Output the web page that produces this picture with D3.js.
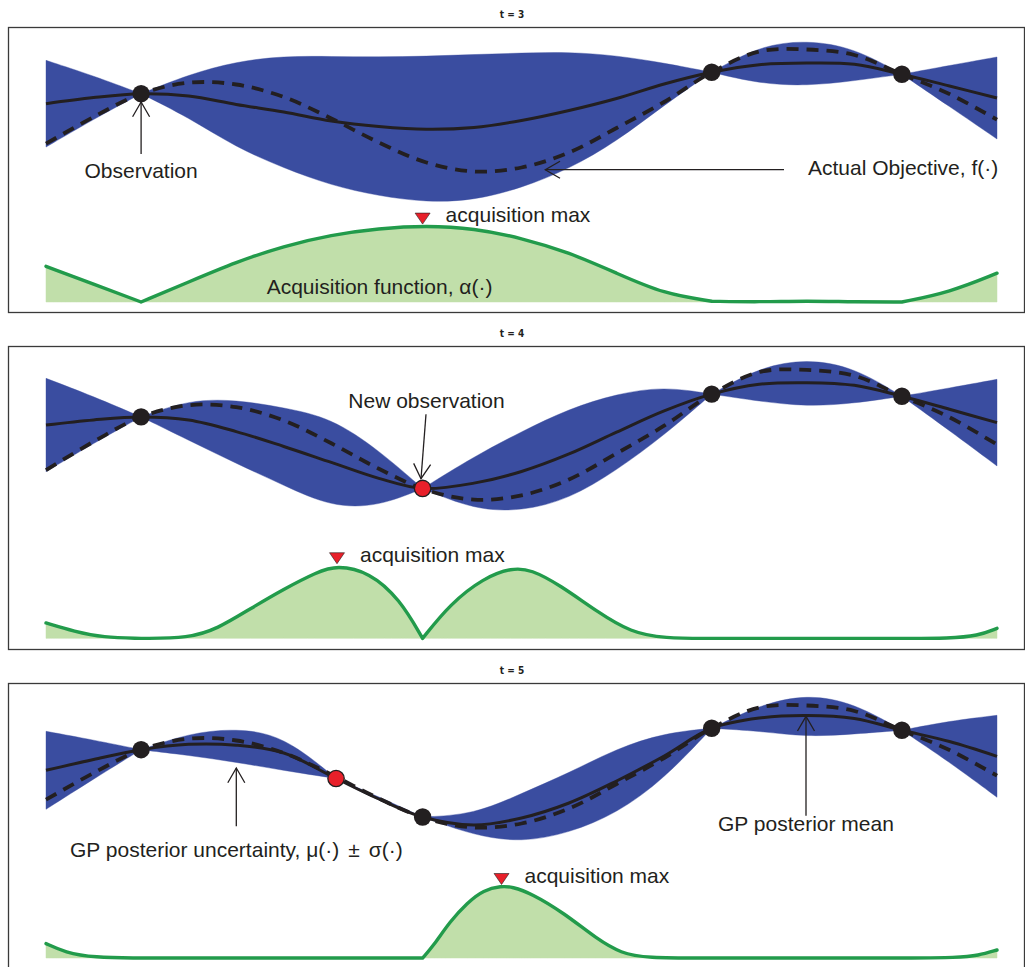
<!DOCTYPE html>
<html><head><meta charset="utf-8">
<script src="https://cdn.jsdelivr.net/npm/d3@7"></script>
<style>body{margin:0;background:#fff}svg{display:block}</style>
</head><body>
<svg id="c" width="1025" height="967"></svg>
<script>
// ---------------- DATA ----------------
const panelTitles = ["t = 3", "t = 4", "t = 5"];

// actual objective f(x), sampled on a regular grid
const xGrid = [0,.05,.1,.15,.2,.25,.3,.35,.4,.45,.5,.55,.6,.65,.7,.75,.8,.85,.9,.95,1];
const objective = [-0.474,0.06,0.526,0.746,0.71,0.46,0.03,-0.45,-0.85,-1.03,-0.95,-0.65,-0.16,0.36,0.955,1.37,1.41,1.30,0.915,0.52,0.006];

// t = 3
const gpX_t3 = [0,.05,.1,.15,.2,.25,.3,.35,.4,.45,.5,.55,.6,.65,.7,.75,.8,.85,.9,.95,1];
const mean_t3 = [0.326,0.45,0.526,0.48,0.31,0.16,-0.02,-0.13,-0.186,-0.15,-0.01,0.19,0.43,0.72,0.955,1.106,1.14,1.114,0.915,0.68,0.44];
const sigma_t3 = [0.867,0.434,0,0.43,0.86,1.12,1.29,1.39,1.46,1.46,1.35,1.17,0.86,0.42,0,0.38,0.46,0.33,0,0.41,0.82];
const obsX_t3 = [0.1,0.7,0.9];
const obsY_t3 = [0.526,0.955,0.915];
const acqX_t3 = [0,.05,.1,.15,.2,.25,.3,.35,.4,.45,.5,.55,.6,.65,.7,.75,.8,.85,.9,.95,1];
const acq_t3 = [0.446,0.223,0,0.25,0.50,0.70,0.84,0.92,0.955,0.92,0.80,0.62,0.36,0.10,0.01,0,0.015,0,0,0.12,0.36];
const acqMaxX_t3 = 0.396;

// t = 4
const gpX_t4 = [0,.05,.1,.15,.2,.25,.3,.35,.396,.45,.5,.55,.6,.65,.7,.75,.8,.85,.9,.95,1];
const mean_t4 = [0.374,0.47,0.526,0.468,0.25,-0.03,-0.33,-0.63,-0.82,-0.72,-0.50,-0.17,0.24,0.64,0.955,1.14,1.17,1.12,0.915,0.67,0.418];
const sigma_t4 = [0.878,0.44,0,0.38,0.60,0.73,0.84,0.53,0,0.50,0.75,0.85,0.72,0.46,0,0.32,0.45,0.34,0,0.40,0.815];
const obsX_t4 = [0.1,0.396,0.7,0.9];
const obsY_t4 = [0.526,-0.82,0.955,0.915];
const newObs_t4 = 0.396;
const acqX_t4 = [0,0.03,0.06,0.1,0.15,0.18,0.215,0.25,0.285,0.306,0.34,0.372,0.396,0.425,0.46,0.49,0.51,0.54,0.58,0.615,0.65,0.7,0.8,0.9,0.95,0.98,1];
const acq_t4 = [0.181,0.08,0.01,0,0.003,0.11,0.35,0.58,0.78,0.86,0.78,0.463,0,0.405,0.71,0.83,0.81,0.63,0.31,0.07,0,0,0,0,0,0.03,0.118];
const acqMaxX_t4 = 0.306;

// t = 5
const gpX_t5 = [0,.05,.1,.15,.2,.25,.305,.35,.396,.45,.5,.55,.6,.65,.7,.75,.8,.85,.9,.95,1];
const mean_t5 = [0.114,0.33,0.526,0.634,0.616,0.46,-0.05,-0.46,-0.82,-0.98,-0.84,-0.54,-0.10,0.40,0.955,1.16,1.21,1.15,0.915,0.69,0.394];
const sigma_t5 = [0.78,0.39,0,0.22,0.34,0.35,0,0.045,0,0.21,0.49,0.60,0.65,0.46,0,0.26,0.43,0.31,0,0.41,0.82];
const obsX_t5 = [0.1,0.305,0.396,0.7,0.9];
const obsY_t5 = [0.526,-0.05,-0.82,0.955,0.915];
const newObs_t5 = 0.305;
const acqX_t5 = [0,0.02,0.05,0.1,0.2,0.305,0.396,0.407,0.425,0.443,0.46,0.479,0.49,0.51,0.545,0.58,0.605,0.63,0.7,0.8,0.9,0.96,0.98,1];
const acq_t5 = [0.18,0.07,0.005,0,0,0,0,0.146,0.46,0.69,0.85,0.9,0.89,0.81,0.56,0.23,0.06,0,0,0,0,0.005,0.03,0.10];
const acqMaxX_t5 = 0.479;

// ---------------- LAYOUT / STYLE ----------------
const panelTop = [27, 346, 683];
const panelH = [285, 303, 285];
const INK = "#231f20", BLUE = "#3a4da0", GREEN = "#229b4b", LGREEN = "#c1dfaa", RED = "#e8202a";
const FONT = "'Liberation Sans', Arial, Helvetica, sans-serif";
const FS = 21;

const panels = [
  {title: panelTitles[0], gpX: gpX_t3, mean: mean_t3, sigma: sigma_t3, obsX: obsX_t3, obsY: obsY_t3, newObs: null, acqX: acqX_t3, acq: acq_t3, acqMax: acqMaxX_t3},
  {title: panelTitles[1], gpX: gpX_t4, mean: mean_t4, sigma: sigma_t4, obsX: obsX_t4, obsY: obsY_t4, newObs: newObs_t4, acqX: acqX_t4, acq: acq_t4, acqMax: acqMaxX_t4},
  {title: panelTitles[2], gpX: gpX_t5, mean: mean_t5, sigma: sigma_t5, obsX: obsX_t5, obsY: obsY_t5, newObs: newObs_t5, acqX: acqX_t5, acq: acq_t5, acqMax: acqMaxX_t5}
];

const svg = d3.select("#c");
const x = d3.scaleLinear().domain([0, 1]).range([46, 997]);

function splitAt(points, isBreak) {
  const segs = []; let cur = [];
  points.forEach(p => { cur.push(p); if (isBreak(p) && cur.length > 1) { segs.push(cur); cur = [p]; } });
  if (cur.length > 1) segs.push(cur);
  return segs;
}

function arrow(g, x1, y1, x2, y2) {
  const ang = Math.atan2(y1 - y2, x1 - x2), L = 17, a = 30 * Math.PI / 180;
  g.append("line").attr("x1", x1).attr("y1", y1).attr("x2", x2).attr("y2", y2)
    .attr("stroke", INK).attr("stroke-width", 1.3);
  g.append("path")
    .attr("d", `M${x2 + L*Math.cos(ang - a)},${y2 + L*Math.sin(ang - a)} L${x2},${y2} L${x2 + L*Math.cos(ang + a)},${y2 + L*Math.sin(ang + a)}`)
    .attr("fill", "none").attr("stroke", INK).attr("stroke-width", 1.3);
}
function label(g, tx, ty, txt, anchor) {
  return g.append("text").attr("x", tx).attr("y", ty).attr("text-anchor", anchor || "start")
    .attr("font-family", FONT).attr("font-size", FS).attr("fill", INK).text(txt);
}

panels.forEach((P, pi) => {
  const top = panelTop[pi], h = panelH[pi], s = h / 285;
  const g = svg.append("g");
  const yGP = d3.scaleLinear().domain([-1, 1]).range([top + s * 143, top + s * 43]);
  const yA = d3.scaleLinear().domain([0, 1]).range([top + s * 275, top + s * 195]);

  // title + frame
  g.append("text").attr("x", 512).attr("y", top - 9).attr("text-anchor", "middle")
    .attr("font-family", "'Liberation Sans Narrow','DejaVu Sans Condensed', Arial, sans-serif")
    .attr("font-weight", "bold").attr("font-size", 10).attr("fill", INK).text(P.title);
  g.append("rect").attr("x", 8.5).attr("y", top + 0.5).attr("width", 1016).attr("height", h)
    .attr("fill", "none").attr("stroke", "#3a3a3a").attr("stroke-width", 1.3);

  // GP uncertainty band: mean ± sigma, pinched at observations
  const gp = P.gpX.map((xv, i) => ({x: xv, m: P.mean[i], s: P.sigma[i]}));
  const band = d3.area().x(d => x(d.x)).y0(d => yGP(d.m - d.s)).y1(d => yGP(d.m + d.s))
    .curve(d3.curveBasis);
  splitAt(gp, d => d.s === 0).forEach(seg => {
    g.append("path").attr("d", band(seg)).attr("fill", BLUE).attr("stroke", BLUE).attr("stroke-width", 0.4);
  });

  // GP posterior mean
  const line = d3.line().x(d => x(d.x)).y(d => yGP(d.y)).curve(d3.curveCatmullRom.alpha(0.5));
  g.append("path").attr("d", line(gp.map(d => ({x: d.x, y: d.m}))))
    .attr("fill", "none").attr("stroke", INK).attr("stroke-width", 3);

  // actual objective (dashed)
  g.append("path").attr("d", line(xGrid.map((xv, i) => ({x: xv, y: objective[i]}))))
    .attr("fill", "none").attr("stroke", INK).attr("stroke-width", 3.8).attr("stroke-dasharray", "12,8");

  // acquisition function
  const ac = P.acqX.map((xv, i) => ({x: xv, a: P.acq[i]}));
  const isObs = d => P.obsX.some(o => Math.abs(o - d.x) < 1e-6);
  const aSegs = splitAt(ac, isObs);
  const aArea = d3.area().x(d => x(d.x)).y0(yA(0)).y1(d => yA(d.a)).curve(d3.curveBasis);
  const aLine = d3.line().x(d => x(d.x)).y(d => yA(d.a)).curve(d3.curveBasis);
  aSegs.forEach(seg => g.append("path").attr("d", aArea(seg)).attr("fill", LGREEN).attr("stroke", LGREEN).attr("stroke-width", 0.5));
  g.append("path").attr("d", aSegs.map(seg => aLine(seg)).join(""))
    .attr("fill", "none").attr("stroke", GREEN).attr("stroke-width", 3.4)
    .attr("stroke-linejoin", "round").attr("stroke-linecap", "round");

  // acquisition max marker
  const tipY = yA(d3.max(P.acq)) - 1.5, cx = x(P.acqMax);
  g.append("path").attr("d", `M${cx - 7.5},${tipY - 11} L${cx + 7.5},${tipY - 11} L${cx},${tipY} Z`)
    .attr("fill", RED).attr("stroke", INK).attr("stroke-width", 0.6);
  label(g, cx + 23, tipY - 2, "acquisition max");

  // observations
  P.obsX.forEach((ox, i) => {
    const isNew = P.newObs !== null && Math.abs(ox - P.newObs) < 1e-6;
    g.append("circle").attr("cx", x(ox)).attr("cy", yGP(P.obsY[i])).attr("r", isNew ? 8.2 : 8.7)
      .attr("fill", isNew ? RED : INK).attr("stroke", INK).attr("stroke-width", isNew ? 1.3 : 0);
  });
  P.g = g;
});

// ---------------- ANNOTATIONS ----------------
const g1 = panels[0].g, g2 = panels[1].g, g3 = panels[2].g;
arrow(g1, x(0.1), 154, x(0.1), 102);
label(g1, x(0.1), 177.5, "Observation", "middle");
arrow(g1, 784, 169.7, 545.3, 169.7);
label(g1, 808, 175.3, "Actual Objective, f(\u00b7)");
label(g1, 266.7, 293.7, "Acquisition function, \u03b1(\u00b7)");

label(g2, 348.3, 407.7, "New observation");
arrow(g2, 426, 414.3, 421, 478.7);

const t3 = label(g3, 70, 857, "GP posterior uncertainty, \u03bc(\u00b7)");
t3.append("tspan").attr("dx", 9).text("\u00b1");
t3.append("tspan").attr("dx", 9).text("\u03c3(\u00b7)");
arrow(g3, 236.3, 826.3, 236.3, 768);
label(g3, 718, 830.7, "GP posterior mean");
arrow(g3, 806, 815.7, 806, 716.3);
</script>
</body></html>
